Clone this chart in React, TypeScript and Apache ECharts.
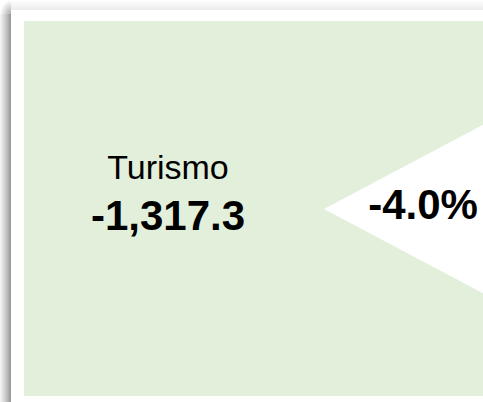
import React, { useEffect, useRef } from "react";
import * as echarts from "echarts";

const categories = ["Turismo"];
const values = [-1317.3];
const changes = [-4.0];

const fmtValue = (v: number) =>
  v.toLocaleString("en-US", { minimumFractionDigits: 1, maximumFractionDigits: 1 });
const fmtPct = (v: number) => v.toFixed(1) + "%";

export default function App() {
  const ref = useRef<HTMLDivElement>(null);
  useEffect(() => {
    if (!ref.current) return;
    const chart = echarts.init(ref.current, null, { renderer: "svg" });
    const font = "'Liberation Sans', Arial, sans-serif";
    chart.setOption({
      animation: false,
      backgroundColor: "#ffffff",
      graphic: [
        {
          type: "rect",
          shape: { x: 0, y: 14, width: 11, height: 388 },
          style: {
            fill: new echarts.graphic.LinearGradient(0, 0, 1, 0, [
              { offset: 0, color: "rgba(0,0,0,0.03)" },
              { offset: 0.5, color: "rgba(0,0,0,0.2)" },
              { offset: 1, color: "rgba(0,0,0,0.42)" },
            ]),
          },
        },
        {
          type: "rect",
          shape: { x: 0, y: 0, width: 11, height: 14 },
          style: {
            fill: new echarts.graphic.RadialGradient(1, 1, 1, [
              { offset: 0, color: "rgba(0,0,0,0.32)" },
              { offset: 1, color: "rgba(0,0,0,0)" },
            ]),
          },
        },
        {
          type: "rect",
          shape: { x: 11, y: 0, width: 472, height: 10 },
          style: {
            fill: new echarts.graphic.LinearGradient(0, 0, 0, 1, [
              { offset: 0, color: "rgba(0,0,0,0)" },
              { offset: 1, color: "rgba(0,0,0,0.08)" },
            ]),
          },
        },
        {
          type: "rect",
          shape: { x: 11, y: 10, width: 472, height: 392 },
          style: { fill: "#ffffff" },
        },
        {
          type: "rect",
          shape: { x: 24, y: 21, width: 470, height: 375 },
          style: { fill: "#E2EFDA" },
        },
        {
          type: "polygon",
          shape: { points: [[324, 209], [494, 119], [494, 299]] },
          style: { fill: "#ffffff" },
        },
        {
          type: "text",
          x: 168,
          y: 150,
          style: {
            text: categories[0],
            fill: "#000000",
            font: `normal 34px ${font}`,
            align: "center",
            verticalAlign: "top",
          },
        },
        {
          type: "text",
          x: 168,
          y: 194,
          style: {
            text: fmtValue(values[0]),
            fill: "#000000",
            font: `bold 42px ${font}`,
            align: "center",
            verticalAlign: "top",
          },
        },
        {
          type: "text",
          x: 423,
          y: 183,
          style: {
            text: fmtPct(changes[0]),
            fill: "#000000",
            font: `bold 42px ${font}`,
            align: "center",
            verticalAlign: "top",
          },
        },
      ],
    });
    return () => chart.dispose();
  }, []);
  return (
    <div
      ref={ref}
      style={{ position: "fixed", left: 0, top: 0, width: 483, height: 402 }}
    />
  );
}
